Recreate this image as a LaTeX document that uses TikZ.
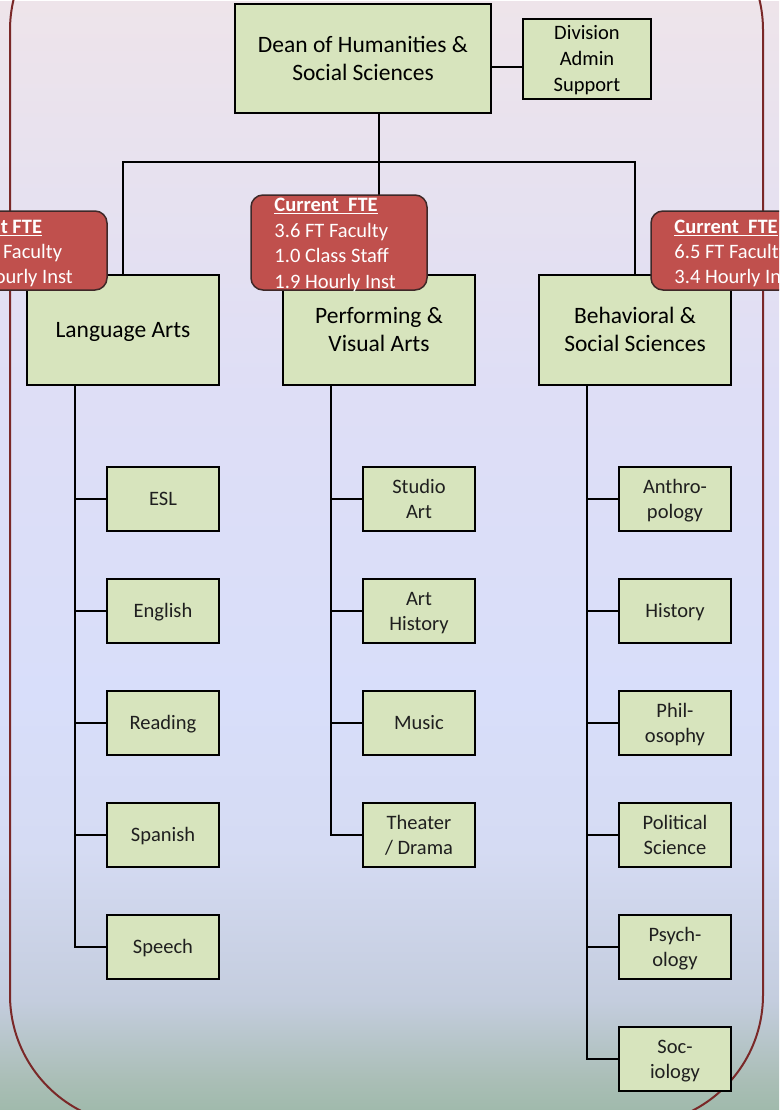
\documentclass[tikz,border=0pt]{standalone}
\usepackage{fontspec}
\setmainfont{Carlito}

% palette
\definecolor{boxfill}{RGB}{215,228,189}
\definecolor{ftefill}{RGB}{192,80,77}
\definecolor{fteline}{RGB}{62,40,40}
\definecolor{framecol}{RGB}{122,40,40}
\definecolor{bgA}{RGB}{160,186,172}
\definecolor{bgB}{RGB}{170,190,182}
\definecolor{bgC}{RGB}{196,205,222}
\definecolor{bgD}{RGB}{213,219,243}
\definecolor{bgE}{RGB}{216,222,250}
\definecolor{bgF}{RGB}{222,222,246}
\definecolor{bgG}{RGB}{238,228,234}

% page background, bottom to top
\pgfdeclareverticalshading{pageshade}{779pt}{%
  color(0pt)=(bgA); color(30pt)=(bgB); color(110pt)=(bgC);
  color(260pt)=(bgD); color(410pt)=(bgE); color(710pt)=(bgF);
  color(1110pt)=(bgG)}

% line struts: each line box is one baselineskip tall, caps centred in it
\newcommand\sA{\rule[-5.9pt]{0pt}{25pt}}    % 20.5pt on 25pt
\newcommand\sB{\rule[-6.4pt]{0pt}{28pt}}    % 23.5pt on 28pt
\newcommand\sC{\rule[-6.4pt]{0pt}{26pt}}    % 20.5pt on 26pt
\newcommand\sD{\rule[-6.15pt]{0pt}{25.5pt}} % 20.5pt on 25.5pt

% underlined heading with a heavier rule
\newcommand\ftehead[1]{\setbox0\hbox{\textbf{#1}}\rlap{\rule[-2.6pt]{\wd0}{1.5pt}}\box0}

\begin{document}
\begin{tikzpicture}[x=1pt,y=-1pt,
  unit/.style={draw=black, line width=2pt, fill=boxfill, align=center, inner sep=0pt},
  deanbox/.style={unit, minimum width=256pt, minimum height=109pt,
    font=\fontsize{23.5}{28}\selectfont},
  adminbox/.style={unit, minimum width=128pt, minimum height=80pt,
    font=\fontsize{20.5}{26}\selectfont},
  deptbox/.style={unit, minimum width=192pt, minimum height=110pt,
    font=\fontsize{23.5}{28}\selectfont},
  subbox/.style={unit, minimum width=112pt, minimum height=64pt,
    font=\fontsize{20.5}{25}\selectfont, text=black!88},
  ftebox/.style={rectangle, rounded corners=12pt, draw=fteline, line width=1.5pt,
    fill=ftefill, inner sep=0pt},
  ftetext/.style={text=white, align=left, inner sep=0pt, anchor=west},
  link/.style={draw=black, line width=1.6pt}]

\useasboundingbox (0,0) rectangle (779,1110);
\node[inner sep=0pt, anchor=north west] (page) at (0,0) {\pgfuseshading{pageshade}};

\begin{scope}
\clip (0,0) rectangle (779,1110);

% division frame
\draw[framecol, line width=2pt, rounded corners=130pt] (10,-100) rectangle (763,1125);

% connector anchors
\coordinate (bus) at (379,162);

% top level
\node[deanbox] (dean) at (363,58.5) {\sB Dean of Humanities \&\\\sB Social Sciences};
\node[adminbox] (admin) at (587,59) {\sC Division\\\sC Admin\\\sC Support};

% departments
\node[deptbox] (lang)  at (123,330) {\sB Language Arts};
\node[deptbox] (perf)  at (379,330) {\sB Performing \&\\\sB Visual Arts};
\node[deptbox] (behav) at (635,330) {\sB Behavioral \&\\\sB Social Sciences};

% disciplines
\node[subbox] (esl)     at (163,499) {\sA ESL};
\node[subbox] (english) at (163,611) {\sA English};
\node[subbox] (reading) at (163,723) {\sA Reading};
\node[subbox] (spanish) at (163,835) {\sA Spanish};
\node[subbox] (speech)  at (163,947) {\sA Speech};

\node[subbox] (studio)  at (419,499) {\sA Studio\\\sA Art};
\node[subbox] (arthist) at (419,611) {\sA Art\\\sA History};
\node[subbox] (music)   at (419,723) {\sA Music};
\node[subbox] (theater) at (419,835) {\sA Theater\\\sA / Drama};

\node[subbox] (anthro)  at (675,499) {\sA Anthro-\\\sA pology};
\node[subbox] (history) at (675,611) {\sA History};
\node[subbox] (philo)   at (675,723) {\sA Phil-\\\sA osophy};
\node[subbox] (polisci) at (675,835) {\sA Political\\\sA Science};
\node[subbox] (psych)   at (675,947) {\sA Psych-\\\sA ology};
\node[subbox] (socio)   at (675,1059) {\sA Soc-\\\sA iology};

% connectors
\path[link] ([yshift=-8.5pt]dean.east) -- ([yshift=-8.5pt]dean.east -| admin.west);
\path[link] (dean.south -| perf.north) -- (perf.north);
\path[link] (lang.north) |- (bus) -| (behav.north);
\foreach \c in {esl,english,reading,spanish,speech}
  \path[link] ([xshift=-48pt]lang.south) |- (\c.west);
\foreach \c in {studio,arthist,music,theater}
  \path[link] ([xshift=-48pt]perf.south) |- (\c.west);
\foreach \c in {anthro,history,philo,polisci,psych,socio}
  \path[link] ([xshift=-48pt]behav.south) |- (\c.west);

% staffing tags
\node[ftebox, minimum width=187pt, minimum height=79pt] (fteL) at (13.5,250.5) {};
\node[ftetext, font=\fontsize{20.5}{25}\selectfont] (fteLtext)
  at ([shift={(24pt,-1.5pt)}]fteL.west)
  {\sA\ftehead{Current FTE}\\
   \sA\hspace*{5pt}\phantom{0.0} FT Faculty\\
   \sA\hspace*{8pt}\phantom{0.0} Hourly Inst};

\node[ftebox, minimum width=176pt, minimum height=95pt] (fteM) at (339,242.5) {};
\node[ftetext, font=\fontsize{20.5}{25.5}\selectfont] (fteMtext)
  at ([shift={(24pt,-1pt)}]fteM.west)
  {\sD\ftehead{Current\ \ FTE}\\\sD 3.6 FT Faculty\\\sD 1.0 Class Staff\\\sD 1.9 Hourly Inst};

\node[ftebox, minimum width=176pt, minimum height=79pt] (fteR) at (739,250.5) {};
\node[ftetext, font=\fontsize{20.5}{25}\selectfont] (fteRtext)
  at ([shift={(24pt,-1.5pt)}]fteR.west)
  {\sA\ftehead{Current\ \ FTE}\\\sA 6.5 FT Faculty\\\sA 3.4 Hourly Inst};
\end{scope}
\end{tikzpicture}
\end{document}
